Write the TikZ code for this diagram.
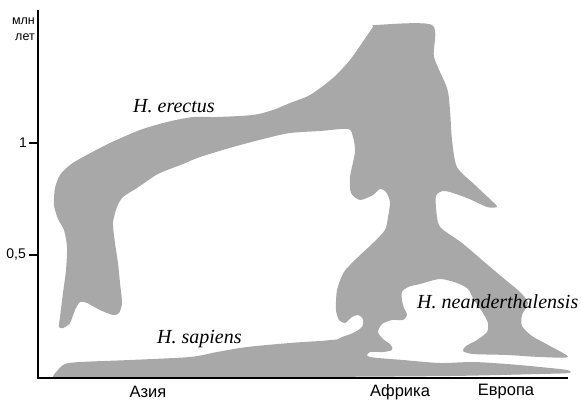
\documentclass[tikz,border=0pt]{standalone}
\usepackage{fontspec}
\setmainfont{Liberation Serif}
\setsansfont{Liberation Sans}
\definecolor{popgray}{RGB}{168,168,168}

\begin{document}
\begin{tikzpicture}[
    x=1pt, y=-1pt,
    pop/.style={fill=popgray, draw=none},
    axis/.style={line width=2.4pt, black},
    tickmark/.style={line width=1.6pt, black},
    species/.style={font=\fontsize{20}{22}\selectfont\itshape, inner sep=0pt, anchor=base west},
    region/.style={font=\sffamily\fontsize{16.5}{18}\selectfont, inner sep=0pt},
    ticklbl/.style={font=\sffamily\fontsize{14}{16}\selectfont, inner sep=0pt, anchor=east},
    unit/.style={font=\sffamily\fontsize{12.5}{16}\selectfont, inner sep=0pt, anchor=east, align=right},
]
\useasboundingbox (0,0) rectangle (581,401);

% ============================ H. sapiens band ===========================
\fill[pop] plot[smooth cycle, tension=0.45] coordinates {
  (55,378) (58,370) (65,364) (80,362) (130,360) (190,357) (217,352)
  (247,347) (290,343) (320,341) (345,340) (365,352) (370,357) (403,360)
  (440,363) (473,362) (507,364) (540,367) (567,370) (569,373) (540,374)
  (450,376) (300,377) (100,377)};

% ============================ H. erectus / Africa / Europe ==============
\fill[pop] plot[smooth cycle, tension=0.45] coordinates {
  (59,327) (60,317) (63,293) (66,270) (67,247) (64,230) (58,219) (54,205)
  (55,188) (60,175) (70,165) (83,157) (110,143) (140,130) (167,122)
  (193,117) (217,117) (253,115) (273,110) (290,103) (310,95) (333,78)
  (350,60) (364,40) (373,27) (376,25) (432,25) (434,57) (447,88)
  (450,110) (452,140) (457,167) (475,185) (493,202) (497,207) (487,207)
  (467,198) (445,191) (436,196) (437,217) (441,228) (462,243) (482,260)
  (502,277) (520,292) (528,303) (522,315) (522,326) (532,336) (550,346)
  (568,357) (540,357) (507,355) (473,354) (463,351) (466,346) (477,340)
  (487,332) (488,323) (483,313) (474,300) (468,289) (457,283) (440,279)
  (420,284) (408,287) (402,292) (402,300) (404,308) (407,315) (403,320)
  (392,320) (382,324) (378,332) (383,339) (391,345) (392,350) (383,352)
  (370,352) (366,356) (355,362) (335,358) (330,345) (340,338) (353,333)
  (362,327) (363,319) (358,315) (352,317) (345,323) (339,320) (336,310)
  (337,290) (344,272) (357,258) (373,243) (385,230) (388,217) (390,202)
  (386,192) (380,189) (373,195) (360,200) (351,193) (350,177) (355,152)
  (353,137) (348,129) (320,131) (290,133) (267,138) (233,147) (200,157)
  (183,164) (158,174) (137,188) (123,197) (117,207) (113,223) (115,243)
  (118,263) (120,283) (122,303) (119,313) (113,315) (100,310) (87,303)
  (80,302) (75,310) (70,323) (63,328)};

% ============================ axes ======================================
\coordinate (top) at (38,10);
\coordinate (origin) at (38,378);
\coordinate (end) at (568,378);
\draw[axis] (top) -- (origin) -- (end);
\foreach \y/\name in {143/one, 255/half}
  \draw[tickmark] (29,\y) -- (38,\y) coordinate (\name);

\node[unit] (units) at (35,29) {млн\\лет};
\node[ticklbl] (onelbl) at (27,143) {1};
\node[ticklbl] (halflbl) at (26,255) {0,5};

% ============================ regions ===================================
\node[region] (asia) at (148,392) {Азия};
\node[region] (africa) at (400,392) {Африка};
\node[region] (europe) at (506,392) {Европа};

% ============================ species ===================================
\node[species] (erectus) at (133,113) {H. erectus};
\node[species] (sapiens) at (157,343) {H. sapiens};
\node[species] (neand) at (417,308) {H. neanderthalensis};

\end{tikzpicture}
\end{document}
